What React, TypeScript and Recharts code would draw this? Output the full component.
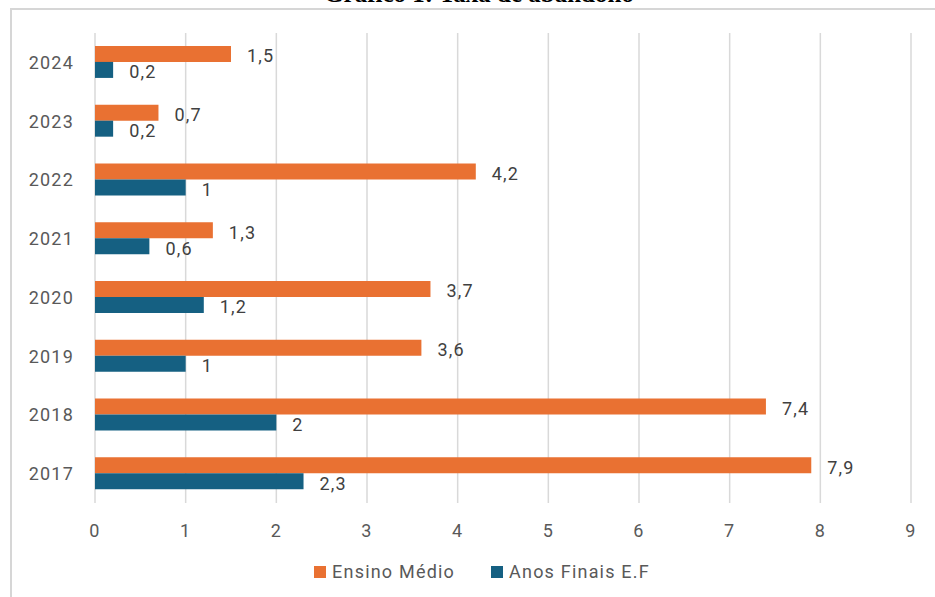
import { BarChart, Bar, XAxis, YAxis, CartesianGrid, Legend, LabelList } from 'recharts';

const years = ['2024', '2023', '2022', '2021', '2020', '2019', '2018', '2017'];
const ensinoMedio = [1.5, 0.7, 4.2, 1.3, 3.7, 3.6, 7.4, 7.9];
const anosFinais = [0.2, 0.2, 1, 0.6, 1.2, 1, 2, 2.3];
const xTicks = [0, 1, 2, 3, 4, 5, 6, 7, 8, 9];
const seriesOrder = ['Ensino Médio', 'Anos Finais E.F'];

const ORANGE = '#E97132';
const BLUE = '#156082';
const FONT = 'Roboto, "Noto Sans", sans-serif';
const tickStyle = { fill: '#595959', fontSize: 18, fontFamily: FONT, letterSpacing: 1.2 };
const labelStyle = { fill: '#404040', fontSize: 18, fontFamily: FONT, letterSpacing: 1.2 };

const data = years.map((year, i) => ({
  year,
  medio: ensinoMedio[i],
  finais: anosFinais[i],
}));

const fmt = (v: any) => String(v).replace('.', ',');

function LegendContent({ payload }: any) {
  const items = [...(payload || [])].sort(
    (a: any, b: any) => seriesOrder.indexOf(a.value) - seriesOrder.indexOf(b.value)
  );
  return (
    <div
      style={{
        display: 'flex',
        justifyContent: 'center',
        fontFamily: FONT,
        fontSize: 18,
        letterSpacing: 1.2,
        color: '#595959',
      }}
    >
      {items.map((p: any, i: number) => (
        <div key={p.value} style={{ display: 'flex', alignItems: 'center', marginLeft: i ? 36 : 0 }}>
          <span style={{ width: 12, height: 12, background: p.color, display: 'inline-block', marginRight: 6 }} />
          <span>{p.value}</span>
        </div>
      ))}
    </div>
  );
}

export default function App() {
  return (
    <div style={{ position: 'fixed', left: 0, top: 0, width: 935, height: 597, background: '#fff', overflow: 'hidden' }}>
      <div
        style={{
          position: 'absolute',
          left: 0,
          width: 958,
          top: -20,
          textAlign: 'center',
          fontFamily: '"Liberation Serif", "Times New Roman", serif',
          fontWeight: 'bold',
          fontSize: 25,
          color: '#000',
        }}
      >
        Gráfico 1: Taxa de abandono
      </div>
      <div
        style={{
          position: 'absolute',
          left: 10,
          top: 8,
          width: 940,
          height: 600,
          border: '2px solid #d6d6d6',
          boxSizing: 'border-box',
        }}
      />
      <div style={{ position: 'absolute', left: 0, top: 0 }}>
        <BarChart
          width={935}
          height={597}
          data={data}
          layout="vertical"
          margin={{ top: 33, right: 24, left: 0, bottom: 64 }}
          barCategoryGap="22%"
          barGap={0}
        >
          <CartesianGrid horizontal={false} stroke="#d9d9d9" strokeWidth={1.5} />
          <XAxis
            type="number"
            domain={[0, 9]}
            ticks={xTicks}
            axisLine={false}
            tickLine={false}
            tickMargin={15}
            tick={tickStyle}
          />
          <YAxis
            type="category"
            dataKey="year"
            width={95}
            axisLine={false}
            tickLine={false}
            tickMargin={15}
            tick={tickStyle}
          />
          <Legend
            verticalAlign="middle"
            content={<LegendContent />}
            wrapperStyle={{ left: 14, width: 936, top: 561 }}
          />
          <Bar dataKey="medio" name="Ensino Médio" fill={ORANGE} isAnimationActive={false}>
            <LabelList dataKey="medio" position="right" offset={16} dy={2} formatter={fmt} style={labelStyle} />
          </Bar>
          <Bar dataKey="finais" name="Anos Finais E.F" fill={BLUE} isAnimationActive={false}>
            <LabelList dataKey="finais" position="right" offset={16} dy={2} formatter={fmt} style={labelStyle} />
          </Bar>
        </BarChart>
      </div>
    </div>
  );
}
